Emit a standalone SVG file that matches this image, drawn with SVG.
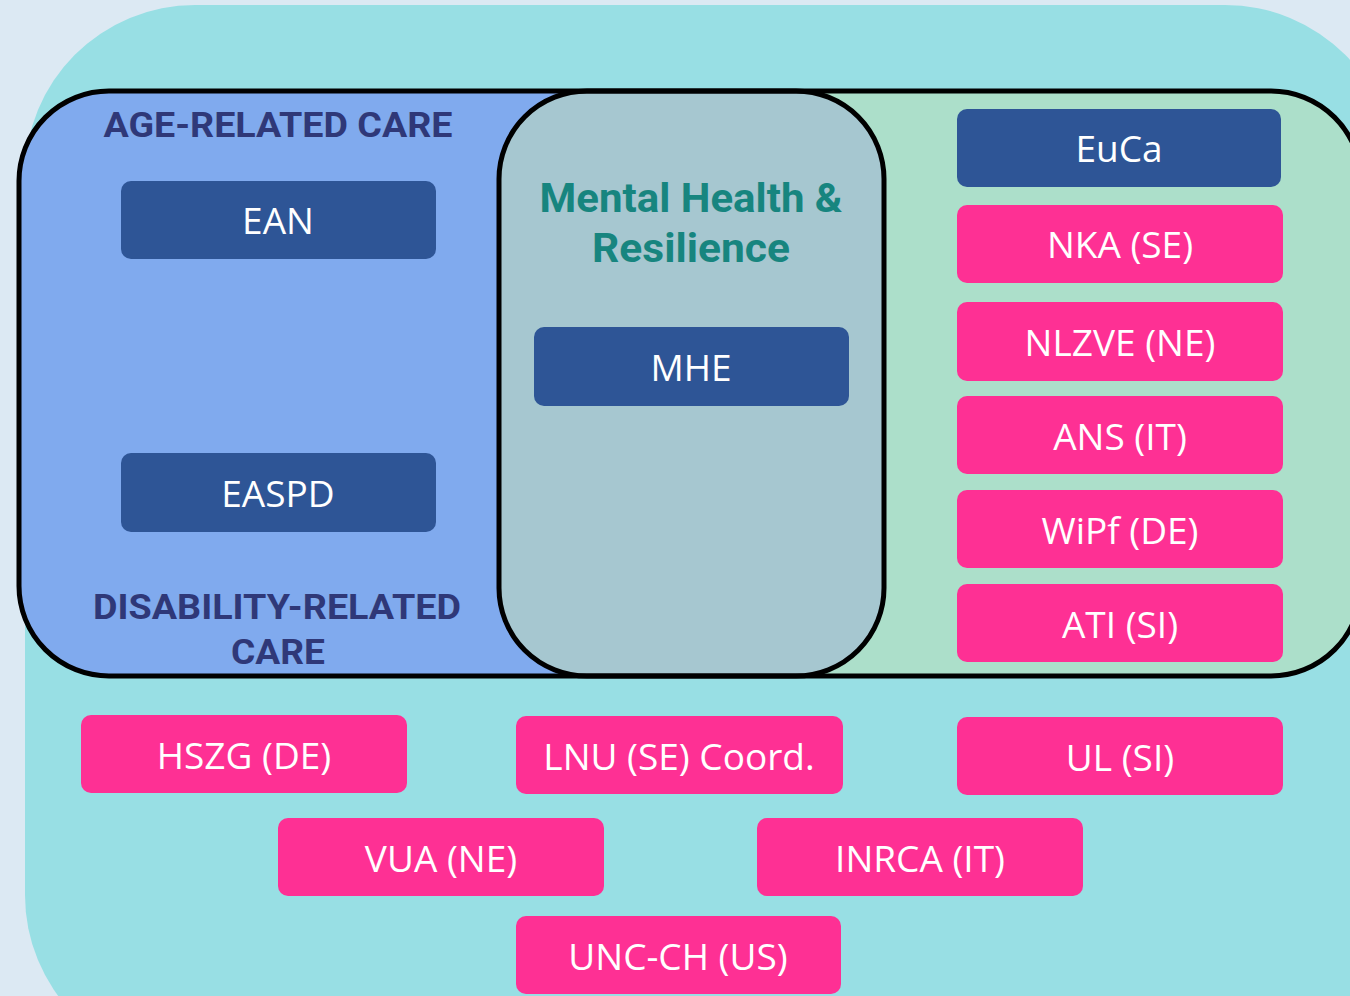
<svg xmlns="http://www.w3.org/2000/svg" width="1350" height="996" viewBox="0 0 1350 996">
<defs>
<style>
.dk{fill:#2e5596}
.pk{fill:#fe3094}
.lbl{font-family:"Open Sans","Liberation Sans",sans-serif;font-size:37px;fill:#ffffff;text-anchor:middle}
.hd{font-family:Roboto,"Liberation Sans",sans-serif;font-weight:bold;font-size:35px;fill:#2f3878;text-anchor:middle}
.mh{font-family:Roboto,"Liberation Sans",sans-serif;font-weight:bold;font-size:41px;fill:#17857f;text-anchor:middle}
</style>
<clipPath id="outerClip"><rect x="19" y="91" width="1342" height="585" rx="90"/></clipPath>
</defs>
<rect x="0" y="0" width="1350" height="996" fill="#dce9f3"/>
<rect x="25" y="5" width="1370" height="1060" rx="170" fill="#98dfe4"/>
<g id="regions">
<rect x="19" y="91" width="1342" height="585" rx="90" fill="#acdfca"/>
<rect x="0" y="0" width="690" height="996" fill="#80aaee" clip-path="url(#outerClip)"/>
<rect x="499" y="91" width="385" height="585" rx="88" fill="#a6c7d0" stroke="#000" stroke-width="5"/>
<rect x="19" y="91" width="1342" height="585" rx="90" fill="none" stroke="#000" stroke-width="5"/>
<text class="hd" x="278" y="137" textLength="349" lengthAdjust="spacingAndGlyphs">AGE-RELATED CARE</text>
<text class="hd" x="277" y="619" textLength="368" lengthAdjust="spacingAndGlyphs">DISABILITY-RELATED</text>
<text class="hd" x="278" y="664" textLength="94" lengthAdjust="spacingAndGlyphs">CARE</text>
<text class="mh" x="691" y="212" textLength="303" lengthAdjust="spacingAndGlyphs">Mental Health &amp;</text>
<text class="mh" x="691" y="262" textLength="198" lengthAdjust="spacingAndGlyphs">Resilience</text>
</g>
<g id="connectors"></g>
<g id="EAN"><rect class="dk" x="121" y="181" width="315" height="78" rx="10"/><text class="lbl" x="278" y="234">EAN</text></g>
<g id="EASPD"><rect class="dk" x="121" y="453" width="315" height="79" rx="10"/><text class="lbl" x="278" y="507">EASPD</text></g>
<g id="MHE"><rect class="dk" x="534" y="327" width="315" height="79" rx="10"/><text class="lbl" x="691" y="381">MHE</text></g>
<g id="EuCa"><rect class="dk" x="957" y="109" width="324" height="78" rx="10"/><text class="lbl" x="1119" y="162">EuCa</text></g>
<g id="NKA"><rect class="pk" x="957" y="205" width="326" height="78" rx="10"/><text class="lbl" x="1120" y="258">NKA (SE)</text></g>
<g id="NLZVE"><rect class="pk" x="957" y="302" width="326" height="79" rx="10"/><text class="lbl" x="1120" y="356">NLZVE (NE)</text></g>
<g id="ANS"><rect class="pk" x="957" y="396" width="326" height="78" rx="10"/><text class="lbl" x="1120" y="450">ANS (IT)</text></g>
<g id="WiPf"><rect class="pk" x="957" y="490" width="326" height="78" rx="10"/><text class="lbl" x="1120" y="544">WiPf (DE)</text></g>
<g id="ATI"><rect class="pk" x="957" y="584" width="326" height="78" rx="10"/><text class="lbl" x="1120" y="638">ATI (SI)</text></g>
<g id="HSZG"><rect class="pk" x="81" y="715" width="326" height="78" rx="10"/><text class="lbl" x="244" y="769">HSZG (DE)</text></g>
<g id="LNU"><rect class="pk" x="516" y="716" width="327" height="78" rx="10"/><text class="lbl" x="679" y="770">LNU (SE) Coord.</text></g>
<g id="UL"><rect class="pk" x="957" y="717" width="326" height="78" rx="10"/><text class="lbl" x="1120" y="771">UL (SI)</text></g>
<g id="VUA"><rect class="pk" x="278" y="818" width="326" height="78" rx="10"/><text class="lbl" x="441" y="872">VUA (NE)</text></g>
<g id="INRCA"><rect class="pk" x="757" y="818" width="326" height="78" rx="10"/><text class="lbl" x="920" y="872">INRCA (IT)</text></g>
<g id="UNC"><rect class="pk" x="516" y="916" width="325" height="78" rx="10"/><text class="lbl" x="678" y="970">UNC-CH (US)</text></g>
</svg>
